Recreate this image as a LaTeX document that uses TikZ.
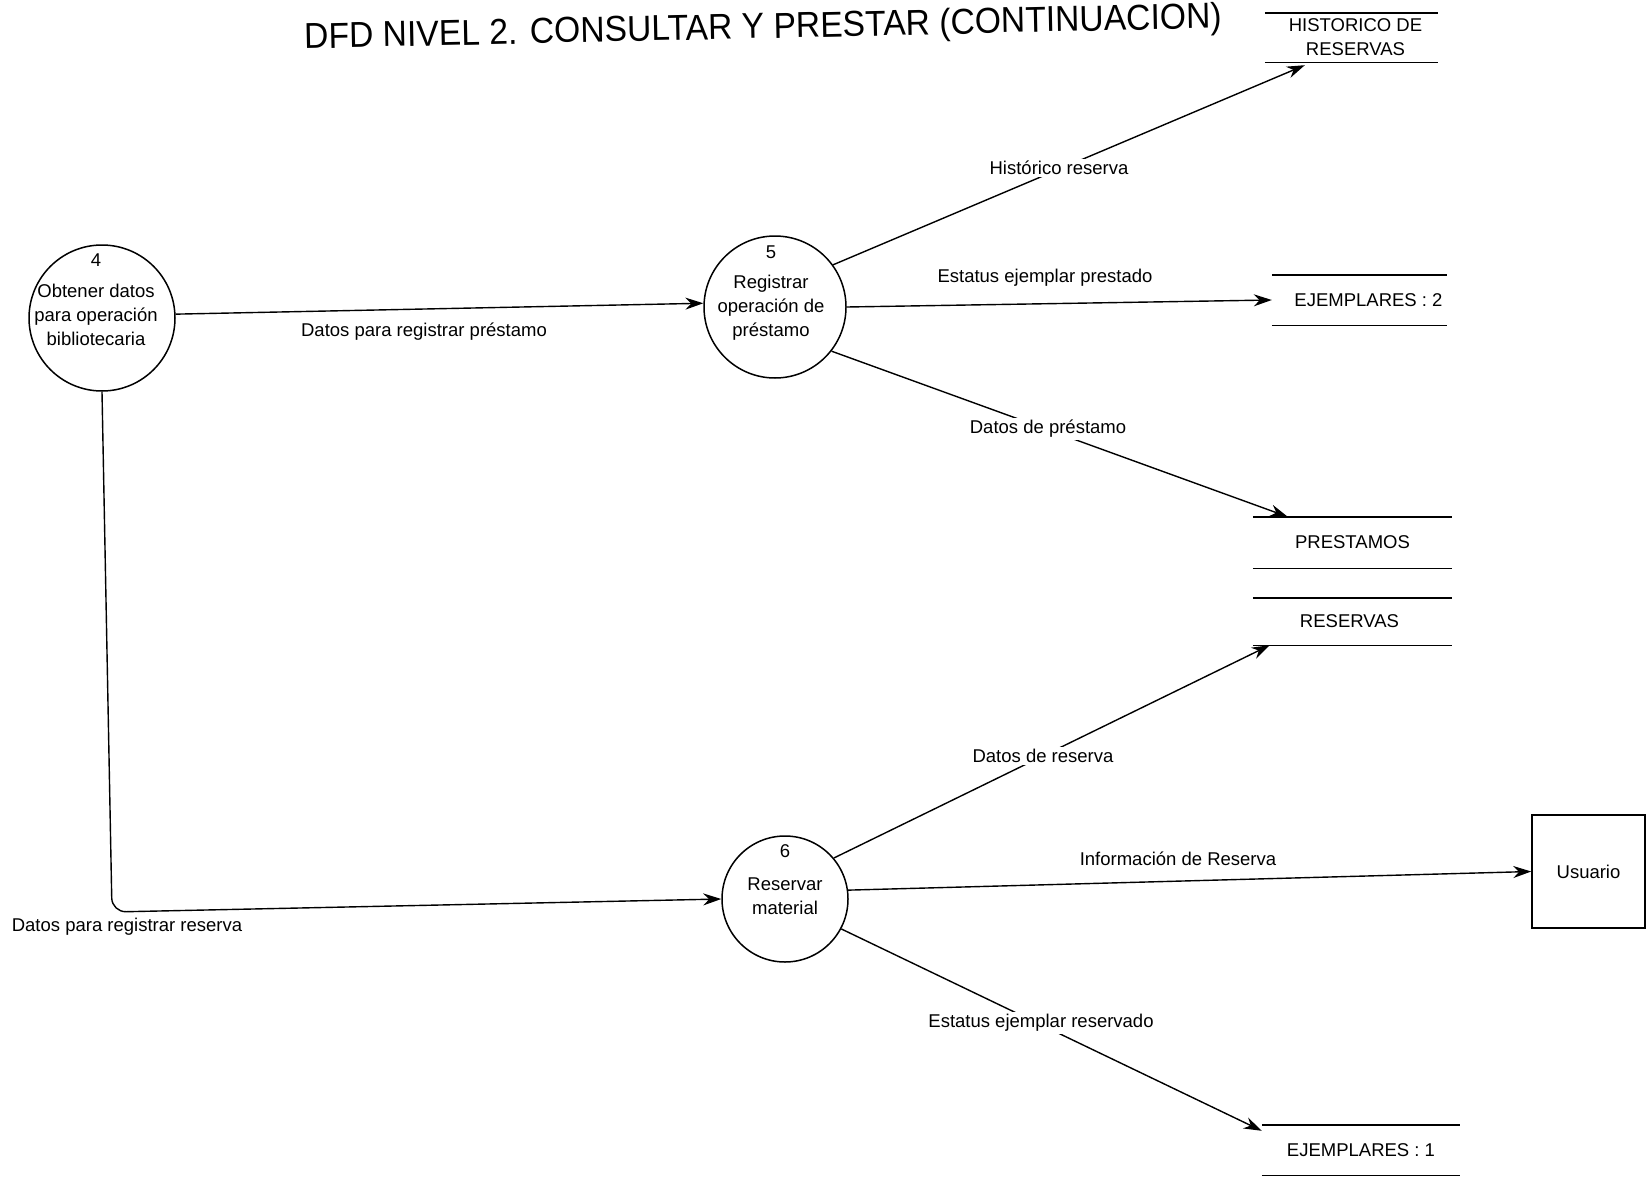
\documentclass[tikz,border=0pt]{standalone}
\usepackage{fontspec}
\setmainfont{Liberation Sans}
\usetikzlibrary{arrows.meta,calc}
\begin{document}
\begin{tikzpicture}[x=1pt,y=-1pt,
  every node/.style={font=\fontsize{18.5}{24}\selectfont},
  proc/.style={circle, draw, line width=1.5pt, inner sep=0pt},
  ptext/.style={align=center, inner sep=0pt},
  flow/.style={line width=1.4pt, -{Stealth[length=18pt,width=12pt]}},
  lbl/.style={inner sep=1pt},
  onl/.style={inner sep=2pt, fill=white},
  storebox/.style={minimum width=#1, inner sep=0pt, align=center},
  storeline/.style={line width=1.4pt},
  ext/.style={draw, line width=1.5pt, minimum width=113pt, minimum height=113pt, inner sep=0pt}
]
\useasboundingbox (0,0) rectangle (1647,1178);

% title
\node[font=\fontsize{36}{40}\selectfont, xscale=0.935, rotate=1.2] (title) at (763,29)
  {DFD NIVEL 2. CONSULTAR Y PRESTAR (CONTINUACION)};

% processes
\node[proc, minimum size=146pt] (c4) at (102,318) {};
\node[ptext] (t4) at (96,300) {4\\[7pt]Obtener datos\\para operación\\bibliotecaria};
\node[proc, minimum size=142pt] (c5) at (775,307) {};
\node[ptext] (t5) at (771,293) {5\\[6pt]Registrar\\operación de\\préstamo};
\node[proc, minimum size=126pt] (c6) at (785,899) {};
\node[ptext] (t6) at (785,880) {6\\[9pt]Reservar\\material};

% stores
\node[storebox=173pt, minimum height=49pt] (hist) at (1351.5,37.5) {\hspace*{8pt}HISTORICO DE\\\hspace*{8pt}RESERVAS};
\node[storebox=175pt, minimum height=50pt] (ej2) at (1359.5,300) {\hspace*{18pt}EJEMPLARES : 2};
\node[storebox=199pt, minimum height=51pt] (prest) at (1352.5,542.5) {PRESTAMOS};
\node[storebox=199pt, minimum height=47pt] (reserv) at (1352.5,621.5) {RESERVAS\hspace*{6pt}};
\node[storebox=198pt, minimum height=50pt] (ej1) at (1361,1150) {EJEMPLARES : 1};
\foreach \s in {hist,ej2,prest,reserv,ej1}{
  \draw[storeline] (\s.north west) -- (\s.north east);
  \draw[storeline] (\s.south west) -- (\s.south east);
}

% external entity
\node[ext] (usr) at (1588.5,871.5) {Usuario};

% corner of the reserve flow
\coordinate (k6) at (112,912);

% flows
\draw[flow] (c4.3) -- (c5.177);
\draw[flow, rounded corners=14pt] (c4.south) -- (k6) -- (c6.west);
\draw[flow] (c5.36) -- ($(hist.south west)+(40,3)$);
\draw[flow] (c5.east) -- (ej2.west);
\draw[flow] (c5.-38) -- ($(prest.north west)+(35,0)$);
\draw[flow] (c6.40) -- ($(reserv.south west)+(17,0)$);
\draw[flow] (c6.8) -- (usr.west);
\draw[flow] (c6.-28) -- ($(ej1.north west)+(0,6)$);

% flow labels
\node[lbl] (l1) at (424,332) {Datos para registrar préstamo};
\node[lbl] (l2) at (127,927) {Datos para registrar reserva};
\node[onl] (l3) at (1059,168) {Histórico reserva};
\node[lbl] (l4) at (1045,278) {Estatus ejemplar prestado};
\node[onl] (l5) at (1048,429) {Datos de préstamo};
\node[onl] (l6) at (1043,756) {Datos de reserva};
\node[lbl] (l7) at (1178,859) {Información de Reserva};
\node[onl] (l8) at (1041,1023) {Estatus ejemplar reservado};
\end{tikzpicture}
\end{document}
